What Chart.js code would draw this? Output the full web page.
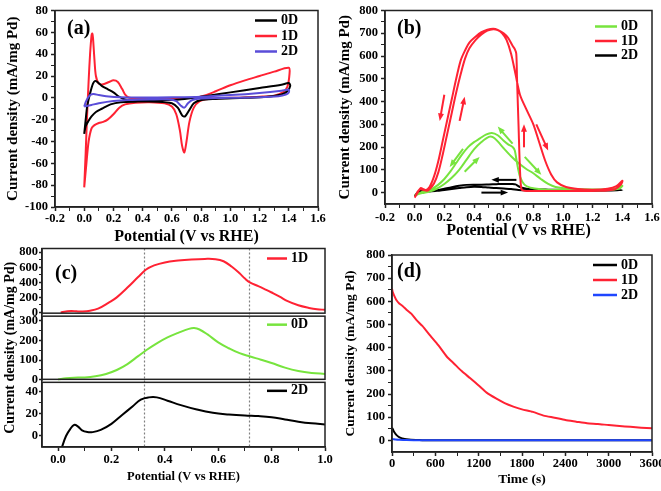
<!DOCTYPE html>
<html>
<head>
<meta charset="utf-8">
<title>Pd 0D / 1D / 2D electro-oxidation</title>
<script src="https://cdn.jsdelivr.net/npm/chart.js@4.4.1/dist/chart.umd.min.js"></script>
<style>
  html, body { margin: 0; padding: 0; background: #fff; }
  body { width: 661px; height: 491px; position: relative; overflow: hidden; }
  canvas { position: absolute; }
</style>
</head>
<body>
<canvas id="panelA" width="330" height="246" style="left:0;top:0"></canvas>
<canvas id="panelB" width="336" height="246" style="left:330px;top:0"></canvas>
<canvas id="panelC" width="338" height="251" style="left:0;top:240px"></canvas>
<canvas id="panelD" width="336" height="251" style="left:330px;top:240px"></canvas>
<script>
// ---- data ----
// (a) CV in acid, [potential V, current mA/mg]
const cvA0D = [[0.0,-33],[0.01,-20],[0.02,-8],[0.04,4],[0.06,13],[0.075,15.5],[0.09,14.5],[0.12,11],[0.16,8],[0.2,5],[0.24,1],
  [0.28,-1.5],[0.35,-2],[0.5,-2],[0.65,-1.5],[0.75,0],[0.85,2],[1.0,5],[1.2,9],[1.35,12],[1.4,13.5],
  [1.41,11],[1.39,6],[1.35,3],[1.25,1],[1.1,0],[0.9,-1],[0.8,-2],[0.75,-5],[0.72,-11],[0.69,-17],[0.67,-16],[0.64,-9],
  [0.6,-5],[0.5,-3.5],[0.35,-3.5],[0.25,-4],[0.18,-6],[0.12,-10],[0.08,-13],[0.05,-17],[0.03,-21],[0.01,-26],[0.0,-33]];
const cvA1D = [[0.0,-82],[0.01,-50],[0.02,-15],[0.03,15],[0.04,40],[0.05,57],[0.055,59],[0.06,55],[0.07,35],[0.08,20],
  [0.1,13],[0.13,12.5],[0.17,14.5],[0.2,16],[0.23,14.5],[0.26,8],[0.28,3],[0.31,0],[0.4,-0.5],[0.6,-0.5],[0.75,0],
  [0.82,2],[0.9,6],[1.0,11.5],[1.1,16],[1.2,20],[1.3,24],[1.4,27.5],
  [1.405,22],[1.39,10],[1.36,5],[1.3,2],[1.2,1],[1.0,0],[0.85,-1],[0.79,-3],[0.75,-9],[0.72,-22],[0.7,-40],[0.685,-50],
  [0.67,-44],[0.655,-30],[0.63,-15],[0.6,-8],[0.55,-5],[0.45,-4],[0.35,-4.5],[0.28,-6],[0.24,-9],[0.2,-15],[0.16,-20],
  [0.13,-22],[0.1,-23],[0.07,-25],[0.05,-28],[0.03,-40],[0.015,-60],[0.0,-82]];
const cvA2D = [[0.0,-8],[0.01,-4],[0.025,0],[0.045,3],[0.065,3.5],[0.1,2.5],[0.15,1.5],[0.25,0.5],[0.4,0.3],[0.6,0.5],
  [0.8,1],[1.0,2.5],[1.2,4.5],[1.35,6.5],[1.4,7.5],
  [1.4,5],[1.38,3],[1.33,1.5],[1.2,0.5],[1.0,0],[0.8,-0.5],[0.74,-2],[0.71,-5],[0.685,-9],[0.66,-7],[0.63,-3],
  [0.58,-1.5],[0.45,-1.5],[0.3,-2],[0.2,-3],[0.1,-5],[0.05,-6.5],[0.0,-8]];

// (b) CV with alcohol, forward then backward scan
const cvB0D = [[0.0,-12],[0.05,-2],[0.1,5],[0.15,18],[0.2,38],[0.25,65],[0.3,100],[0.35,145],[0.4,190],[0.45,222],
  [0.5,245],[0.53,243],[0.56,225],[0.6,195],[0.65,160],[0.7,130],[0.75,105],[0.8,85],[0.85,60],[0.9,38],[0.95,25],
  [1.05,17],[1.2,14],[1.3,15],[1.37,20],[1.4,30],
  [1.38,18],[1.3,12],[1.1,11],[0.95,12],[0.85,15],[0.78,22],[0.74,35],[0.71,70],[0.69,130],[0.675,185],[0.66,200],
  [0.63,212],[0.6,228],[0.56,252],[0.52,262],[0.48,255],[0.44,238],[0.4,222],[0.36,200],[0.32,168],[0.28,130],
  [0.24,92],[0.2,60],[0.16,35],[0.12,18],[0.08,8],[0.04,0],[0.0,-12]];
const cvB1D = [[0.0,-22],[0.02,0],[0.04,20],[0.06,15],[0.08,8],[0.1,15],[0.13,40],[0.16,90],[0.19,170],[0.22,260],
  [0.25,350],[0.28,440],[0.31,520],[0.34,590],[0.37,635],[0.41,670],[0.45,695],[0.49,712],[0.53,718],[0.56,714],
  [0.59,700],[0.62,670],[0.65,610],[0.68,520],[0.71,430],[0.75,370],[0.8,300],[0.84,220],[0.88,140],[0.92,80],
  [0.96,45],[1.02,25],[1.1,16],[1.2,13],[1.3,17],[1.36,28],[1.4,52],
  [1.39,35],[1.35,15],[1.25,8],[1.0,7],[0.8,7],[0.74,8],[0.72,15],[0.71,100],[0.7,300],[0.69,500],[0.685,610],
  [0.675,630],[0.66,645],[0.63,680],[0.6,700],[0.56,715],[0.53,720],[0.49,716],[0.45,705],[0.41,685],[0.37,660],
  [0.34,625],[0.31,580],[0.28,500],[0.25,410],[0.22,320],[0.19,230],[0.16,140],[0.13,70],[0.1,25],[0.07,10],
  [0.04,15],[0.02,5],[0.0,-22]];
const cvB2D = [[0.0,-15],[0.03,0],[0.06,8],[0.1,5],[0.15,8],[0.2,12],[0.25,16],[0.3,20],[0.35,24],[0.4,26],[0.45,25],
  [0.5,22],[0.55,20],[0.6,18],[0.65,16],[0.7,12],[0.75,10],[0.9,8],[1.1,8],[1.3,9],[1.4,11],
  [1.3,12],[1.1,12],[0.9,13],[0.78,15],[0.73,20],[0.7,28],[0.68,36],[0.66,38],[0.6,38],[0.55,37],[0.5,36],[0.45,35],
  [0.4,35],[0.35,34],[0.3,30],[0.25,24],[0.2,17],[0.15,10],[0.1,6],[0.07,10],[0.04,7],[0.02,0],[0.0,-15]];
// scan direction arrows in (b): series, from [V, mA], to [V, mA]
const bArrows = [
  ['1D', [0.2, 430], [0.169, 315]], ['1D', [0.303, 315], [0.337, 421]],
  ['1D', [0.737, 199], [0.737, 300]], ['1D', [0.82, 300], [0.9, 185]],
  ['0D', [0.66, 215], [0.56, 290]], ['0D', [0.326, 192], [0.236, 113]],
  ['0D', [0.337, 92], [0.438, 157]], ['0D', [0.742, 157], [0.854, 78]],
  ['2D', [0.686, 56], [0.517, 56]], ['2D', [0.45, 0], [0.63, 0]]
];

// (c) forward scans, one subplot each
const lsv1D = [[0.01,0],[0.03,12],[0.05,20],[0.07,14],[0.09,12],[0.12,22],[0.15,50],[0.19,130],[0.22,200],[0.26,330],
  [0.3,470],[0.33,570],[0.36,625],[0.4,665],[0.45,690],[0.5,705],[0.55,712],[0.59,708],[0.62,680],[0.65,610],[0.68,520],
  [0.7,450],[0.72,395],[0.75,350],[0.78,300],[0.8,265],[0.83,210],[0.86,150],[0.9,95],[0.94,60],[0.97,42],[1.0,35]];
const lsv0D = [[0.0,2],[0.03,8],[0.06,11],[0.1,12],[0.14,18],[0.18,30],[0.22,50],[0.26,80],[0.3,120],[0.33,150],
  [0.37,185],[0.41,215],[0.45,238],[0.49,258],[0.51,262],[0.53,255],[0.56,230],[0.6,190],[0.64,160],[0.68,135],
  [0.72,118],[0.76,102],[0.8,85],[0.85,62],[0.9,45],[0.95,35],[1.0,30]];
const lsv2D = [[0.015,-10],[0.03,0],[0.045,6],[0.06,10],[0.075,8.5],[0.09,5],[0.11,3.5],[0.13,3.5],[0.16,5.5],[0.2,11],
  [0.24,19],[0.28,27],[0.31,33],[0.34,35],[0.37,35],[0.41,32],[0.46,28],[0.52,24],[0.58,21],[0.64,19.5],[0.7,18.5],
  [0.75,18],[0.8,17],[0.85,15],[0.9,13],[0.95,11.5],[1.0,10.5]];
const cMarkers = [0.322, 0.715];

// (d) chronoamperometry
const time1D = [0,10,30,60,100,150,200,270,340,420,530,640,760,860,965,1080,1200,1310,1440,1560,1680,1800,1950,2100,
  2250,2400,2550,2700,2850,3000,3150,3300,3450,3600];
const cur1D = [655,640,625,606,591,579,564,546,519,494,452,411,361,331,299,269,237,206,181,161,146,134,123,107,
  98,88,81,74,71,66,62,59,55,52];
const time0D = [0,10,20,40,60,90,120,160,200,260,330,420,600,900,1500,2400,3600];
const cur0D = [55,50,42,32,24,16,11,7,5,3,2,1.2,0.8,0.5,0.3,0.2,0.2];
const time2D = [0,20,50,100,200,400,1000,2000,3600];
const cur2D = [6,5,3.5,2.5,1.5,1,0.5,0.3,0.3];

// tick labels
const cvXTicks = [-0.2, 0, 0.2, 0.4, 0.6, 0.8, 1.0, 1.2, 1.4, 1.6];
const aYTicks = [-100, -80, -60, -40, -20, 0, 20, 40, 60, 80];
const bYTicks = [0, 100, 200, 300, 400, 500, 600, 700, 800];
const cXTicks = [0, 0.2, 0.4, 0.6, 0.8, 1.0];
const c1YTicks = [0, 200, 400, 600, 800];
const c0YTicks = [0, 100, 200, 300];
const c2YTicks = [0, 20, 40];
const dXTicks = [0, 600, 1200, 1800, 2400, 3000, 3600];
const dYTicks = [0, 100, 200, 300, 400, 500, 600, 700, 800];

// ---- styling ----
const RED = '#ff2233', GREEN = '#77e43e', PURPLE = '#5a4dd8', BLUE = '#1f46ff', BLACK = '#000000';
const SERIF = '"Liberation Serif", "Times New Roman", serif';
const YTITLE = 'Current density (mA/mg Pd)';
Chart.defaults.font.family = SERIF;
Chart.defaults.font.weight = 'bold';
Chart.defaults.color = '#000';

const pts = arr => arr.map(([x, y]) => ({ x, y }));
const zip = (xs, ys) => xs.map((x, i) => ({ x, y: ys[i] }));
const isMajor = (major, v) => major.some(m => Math.abs(m - v) < 1e-9);

function withMinor(major) {
  const out = [];
  major.forEach((v, i) => {
    out.push(v);
    if (i < major.length - 1) out.push((v + major[i + 1]) / 2);
  });
  return out;
}

function axis(o) {
  const vals = withMinor(o.major).filter(v => v >= o.min && v <= o.max);
  const cfg = {
    type: 'linear',
    position: o.pos,
    min: o.min,
    max: o.max,
    weight: o.weight || 0,
    afterBuildTicks: s => { s.ticks = vals.map(v => ({ value: v })); },
    afterFit: s => { if (o.pos === 'bottom') s.height = o.size; else s.width = o.size; },
    ticks: {
      autoSkip: false, maxRotation: 0, minRotation: 0, padding: o.tickPad,
      font: { size: 12.5, weight: 'bold' }, color: '#000',
      callback: v => isMajor(o.major, v) ? (o.fmt ? o.fmt(v) : String(v)) : ''
    },
    grid: {
      drawOnChartArea: false, drawTicks: true, tickLength: o.tickLen || 4, tickColor: '#222',
      tickWidth: c => (c.tick && isMajor(o.major, c.tick.value)) ? 1.5 : 1
    },
    border: { display: true, color: '#222', width: 1.5 },
    title: o.title
      ? { display: true, text: o.title, color: '#000', font: { size: o.titleSize, weight: 'bold' },
          padding: { top: o.titlePad, bottom: o.titlePad } }
      : { display: false }
  };
  if (o.stack) { cfg.stack = o.stack; cfg.stackWeight = 1; }
  return cfg;
}

function series(label, data, color, extra) {
  return Object.assign({
    label, data, borderColor: color, backgroundColor: color, borderWidth: 2,
    pointRadius: 0, showLine: true, fill: false, tension: 0.3
  }, extra || {});
}

function drawArrow(ctx, x1, y1, x2, y2, color) {
  const a = Math.atan2(y2 - y1, x2 - x1), h = 8;
  ctx.strokeStyle = color; ctx.fillStyle = color; ctx.lineWidth = 2;
  ctx.beginPath();
  ctx.moveTo(x1, y1);
  ctx.lineTo(x2 - h * 0.7 * Math.cos(a), y2 - h * 0.7 * Math.sin(a));
  ctx.stroke();
  ctx.beginPath();
  ctx.moveTo(x2, y2);
  ctx.lineTo(x2 - h * Math.cos(a - 0.38), y2 - h * Math.sin(a - 0.38));
  ctx.lineTo(x2 - h * Math.cos(a + 0.38), y2 - h * Math.sin(a + 0.38));
  ctx.closePath();
  ctx.fill();
}

// frame, inside legend, panel tag, arrows and guide lines
const deco = {
  id: 'deco',
  beforeDatasetsDraw(chart, args, o) {
    if (!o.markers) return;
    const { ctx, chartArea: ca, scales } = chart;
    ctx.save();
    ctx.strokeStyle = '#808080'; ctx.lineWidth = 1.2; ctx.setLineDash([2, 2]);
    o.markers.forEach(v => {
      const x = Math.round(scales.x.getPixelForValue(v)) + 0.5;
      ctx.beginPath(); ctx.moveTo(x, ca.top); ctx.lineTo(x, ca.bottom); ctx.stroke();
    });
    ctx.restore();
  },
  afterDraw(chart, args, o) {
    const { ctx, chartArea: ca, scales } = chart;
    ctx.save();
    ctx.strokeStyle = '#222'; ctx.lineWidth = 1.5;
    if (o.stacked) {
      o.stacked.forEach((id, i) => {
        const s = scales[id];
        const t = s.top + (i > 0 ? 1.5 : 0), b = s.bottom - (i < o.stacked.length - 1 ? 1.5 : 0);
        ctx.strokeRect(ca.left, t, ca.right - ca.left, b - t);
      });
    } else {
      ctx.strokeRect(ca.left, ca.top, ca.right - ca.left, ca.bottom - ca.top);
    }
    if (o.arrows) {
      o.arrows.forEach(([key, from, to]) => {
        const ds = chart.data.datasets.find(d => d.label === key);
        drawArrow(ctx, scales.x.getPixelForValue(from[0]), scales.y.getPixelForValue(from[1]),
          scales.x.getPixelForValue(to[0]), scales.y.getPixelForValue(to[1]), ds.borderColor);
      });
    }
    const lg = o.legend;
    ctx.font = 'bold 14px ' + SERIF;
    ctx.textBaseline = 'middle';
    chart.data.datasets.forEach((ds, i) => {
      const top = o.stacked ? scales[ds.yAxisID].top : ca.top;
      const y = top + lg.top + (o.stacked ? 0 : i * lg.gap);
      const x0 = ca.right - lg.right;
      ctx.strokeStyle = ds.borderColor; ctx.lineWidth = 2.5;
      ctx.beginPath(); ctx.moveTo(x0, y); ctx.lineTo(x0 + lg.len, y); ctx.stroke();
      ctx.fillStyle = '#000';
      ctx.fillText(ds.label, x0 + lg.len + 4, y);
    });
    ctx.font = 'bold 20px ' + SERIF;
    ctx.textBaseline = 'middle';
    ctx.fillStyle = '#000';
    ctx.fillText(o.tag[0], ca.left + o.tag[1], ca.top + o.tag[2]);
    ctx.restore();
  }
};

function makeChart(id, datasets, scales, padding, decoOpts) {
  return new Chart(document.getElementById(id), {
    type: 'scatter',
    data: { datasets },
    options: {
      responsive: false,
      animation: false,
      layout: { padding },
      scales,
      plugins: { legend: { display: false }, tooltip: { enabled: false }, deco: decoOpts }
    },
    plugins: [deco]
  });
}

const fmt1 = v => v.toFixed(1);

// (a)
makeChart('panelA',
  [series('0D', pts(cvA0D), BLACK, { order: 1 }), series('1D', pts(cvA1D), RED, { order: 2 }),
   series('2D', pts(cvA2D), PURPLE, { order: 0 })],
  {
    x: axis({ pos: 'bottom', min: -0.2, max: 1.6, major: cvXTicks, fmt: fmt1, size: 39, tickPad: 0,
      title: 'Potential (V vs RHE)', titleSize: 16, titlePad: 0 }),
    y: axis({ pos: 'left', min: -100, max: 80, major: aYTicks, size: 55, tickPad: 3,
      title: YTITLE, titleSize: 15, titlePad: 4 })
  },
  { left: 0, top: 7, right: 12, bottom: 0 },
  { tag: ['(a)', 12, 18], legend: { right: 63, len: 22, top: 10, gap: 15.5 } });

// (b)
makeChart('panelB',
  [series('0D', pts(cvB0D), GREEN, { order: 1 }), series('1D', pts(cvB1D), RED, { order: 0 }),
   series('2D', pts(cvB2D), BLACK, { order: 2 })],
  {
    x: axis({ pos: 'bottom', min: -0.2, max: 1.6, major: cvXTicks, fmt: fmt1, size: 42, tickPad: 2.5,
      title: 'Potential (V vs RHE)', titleSize: 16, titlePad: 6 }),
    y: axis({ pos: 'left', min: -50, max: 800, major: bYTicks, size: 55, tickPad: 3,
      title: YTITLE, titleSize: 15, titlePad: 6 })
  },
  { left: 0, top: 7, right: 14, bottom: 0 },
  { tag: ['(b)', 12, 18], legend: { right: 57, len: 22, top: 16, gap: 14.5 }, arrows: bArrows });

// (c) three stacked panels sharing the potential axis
makeChart('panelC',
  [series('1D', pts(lsv1D), RED, { yAxisID: 'y1', tension: 0.4 }),
   series('0D', pts(lsv0D), GREEN, { yAxisID: 'y2', tension: 0.4 }),
   series('2D', pts(lsv2D), BLACK, { yAxisID: 'y3', tension: 0.4 })],
  {
    x: axis({ pos: 'bottom', min: -0.06, max: 1.0, major: cXTicks, fmt: fmt1, size: 44, tickPad: 1.5,
      title: 'Potential (V vs RHE)', titleSize: 12.5, titlePad: 6.5 }),
    y1: axis({ pos: 'left', stack: 'c', weight: 3, min: -30, max: 850, major: c1YTicks, size: 42, tickPad: 1, tickLen: 3 }),
    y2: axis({ pos: 'left', stack: 'c', weight: 2, min: -5, max: 330, major: c0YTicks, size: 42, tickPad: 1, tickLen: 3,
      title: YTITLE, titleSize: 14, titlePad: 1.6 }),
    y3: axis({ pos: 'left', stack: 'c', weight: 1, min: -10, max: 50, major: c2YTicks, size: 42, tickPad: 1, tickLen: 3 })
  },
  { left: 0, top: 7, right: 13, bottom: 0 },
  { tag: ['(c)', 13, 25], legend: { right: 58, len: 20, top: 10, gap: 0 }, stacked: ['y1', 'y2', 'y3'], markers: cMarkers });

// (d)
makeChart('panelD',
  [series('0D', zip(time0D, cur0D), BLACK, { tension: 0.2, order: 1 }),
   series('1D', zip(time1D, cur1D), RED, { tension: 0.2, order: 2 }),
   series('2D', zip(time2D, cur2D), BLUE, { tension: 0.2, order: 0 })],
  {
    x: axis({ pos: 'bottom', min: 0, max: 3600, major: dXTicks, size: 39, tickPad: 0,
      title: 'Time (s)', titleSize: 13.5, titlePad: 3 }),
    y: axis({ pos: 'left', min: -50, max: 800, major: dYTicks, size: 62, tickPad: 3,
      title: YTITLE, titleSize: 13.5, titlePad: 12 })
  },
  { left: 0, top: 15, right: 14, bottom: 0 },
  { tag: ['(d)', 5, 17], legend: { right: 59, len: 24, top: 10, gap: 15 } });
</script>
</body>
</html>
